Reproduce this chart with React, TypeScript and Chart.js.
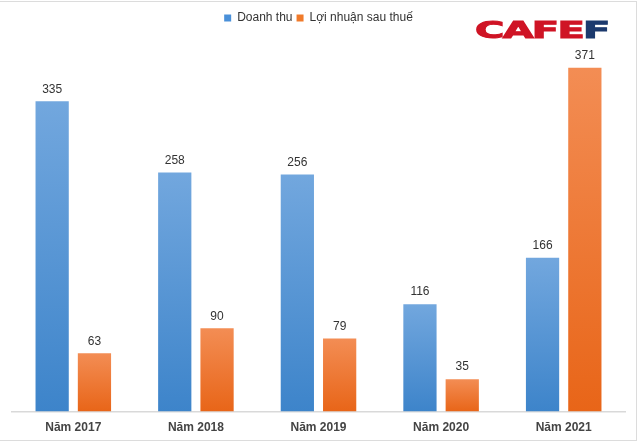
import React, { useEffect, useRef } from "react";
import { Chart, registerables } from "chart.js";

Chart.register(...registerables);

const categories = ["Năm 2017", "Năm 2018", "Năm 2019", "Năm 2020", "Năm 2021"];
const revenue = [335, 258, 256, 116, 166];
const profit = [63, 90, 79, 35, 371];
const seriesNames = ["Doanh thu", "Lợi nhuận sau thuế"];

const FONT = "'Liberation Sans', Arial, Helvetica, sans-serif";

function gradientFor(top: string, bottom: string, solid: string) {
  return (ctx: any) => {
    const chart = ctx.chart;
    const area = chart.chartArea;
    if (ctx.type !== "data" || !area || !chart.scales || !chart.scales.y) return solid;
    const v = ctx.raw as number;
    const yTop = chart.scales.y.getPixelForValue(v);
    const yBot = chart.scales.y.getPixelForValue(0);
    if (!isFinite(yTop) || !isFinite(yBot) || yTop === yBot) return solid;
    const g = chart.ctx.createLinearGradient(0, yTop, 0, yBot);
    g.addColorStop(0, top);
    g.addColorStop(1, bottom);
    return g;
  };
}

const valueLabels = {
  id: "valueLabels",
  afterDatasetsDraw(chart: any) {
    const c = chart.ctx;
    c.save();
    c.font = `12px ${FONT}`;
    c.fillStyle = "#333333";
    c.textAlign = "center";
    c.textBaseline = "bottom";
    chart.data.datasets.forEach((ds: any, i: number) => {
      const meta = chart.getDatasetMeta(i);
      meta.data.forEach((bar: any, j: number) => {
        c.fillText(String(ds.data[j]), bar.x, bar.y - 6);
      });
    });
    c.restore();
  },
};

const legendMargin = {
  id: "legendMargin",
  beforeInit(chart: any) {
    const orig = chart.legend.fit;
    chart.legend.fit = function () {
      orig.bind(chart.legend)();
      this.height += 7;
    };
  },
};

export default function App() {
  const ref = useRef<HTMLCanvasElement>(null);
  useEffect(() => {
    if (!ref.current) return;
    const chart = new Chart(ref.current, {
      type: "bar",
      data: {
        labels: categories,
        datasets: [
          {
            label: seriesNames[0],
            data: revenue,
            backgroundColor: gradientFor("#72a7de", "#3d84ca", "#4a90d9"),
            categoryPercentage: 0.69,
            barPercentage: 0.786,
          },
          {
            label: seriesNames[1],
            data: profit,
            backgroundColor: gradientFor("#f38d54", "#e86518", "#f07a2a"),
            categoryPercentage: 0.69,
            barPercentage: 0.786,
          },
        ],
      },
      options: {
        animation: false,
        responsive: false,
        maintainAspectRatio: false,
        layout: { padding: { left: 12, right: 15, top: 8, bottom: 7 } },
        plugins: {
          legend: {
            display: true,
            position: "top",
            labels: {
              boxWidth: 7,
              boxHeight: 7,
              padding: 4,
              color: "#333333",
              font: { family: FONT, size: 12 },
              generateLabels: () => [
                { text: seriesNames[0], fillStyle: "#4a90d9", strokeStyle: "#4a90d9", lineWidth: 0, datasetIndex: 0, fontColor: "#333333" },
                { text: seriesNames[1], fillStyle: "#f07a2a", strokeStyle: "#f07a2a", lineWidth: 0, datasetIndex: 1, fontColor: "#333333" },
              ],
            },
          },
          tooltip: { enabled: false },
        },
        scales: {
          x: {
            grid: { display: false },
            border: { display: true, color: "#d9d9d9", width: 1.5 },
            ticks: {
              color: "#444444",
              padding: 1,
              font: { family: FONT, size: 12, weight: "bold" },
            },
          },
          y: {
            display: false,
            min: 0,
            max: 400,
          },
        },
      },
      plugins: [valueLabels, legendMargin],
    });
    return () => chart.destroy();
  }, []);

  return (
    <div style={{ position: "absolute", left: 0, top: 0, width: 640, height: 443, background: "#fff", overflow: "hidden" }}>
      <canvas ref={ref} width={640} height={443} style={{ position: "absolute", left: 0, top: 0 }} />
      <div
        style={{
          position: "absolute",
          left: 0,
          top: 1,
          width: 636,
          height: 438,
          borderTop: "1px solid #dcdcdc",
          borderRight: "1px solid #dcdcdc",
          borderBottom: "1px solid #dcdcdc",
          pointerEvents: "none",
        }}
      />
      <div
        style={{
          position: "absolute",
          left: 475,
          top: 19,
          fontFamily: "'DejaVu Sans', sans-serif",
          fontWeight: 900,
          fontSize: 23,
          lineHeight: "23px",
          whiteSpace: "nowrap",
          transform: "scaleX(1.74)",
          transformOrigin: "0 0",
          letterSpacing: -1,
          WebkitTextStroke: "1px currentColor",
        }}
      >
        <span style={{ color: "#cf1425" }}>CAFE</span>
        <span style={{ color: "#1c3a6e" }}>F</span>
      </div>
    </div>
  );
}
